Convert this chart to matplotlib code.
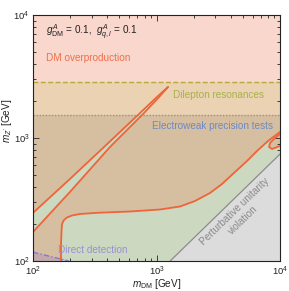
import matplotlib
matplotlib.use('Agg')
import matplotlib.pyplot as plt
from matplotlib.patches import Rectangle
from matplotlib.ticker import LogLocator, FixedLocator, NullFormatter

plt.rcParams['font.family'] = ['Liberation Sans', 'DejaVu Sans']
plt.rcParams['mathtext.fontset'] = 'custom'
plt.rcParams['mathtext.rm'] = 'Liberation Sans'
plt.rcParams['mathtext.it'] = 'Liberation Sans:italic'
plt.rcParams['mathtext.bf'] = 'Liberation Sans:bold'

# ---------------- data (GeV) ----------------
band_upper_mdm = [100, 199, 376, 736, 1028, 1239]
band_upper_mz = [246, 464, 845, 1597, 2195, 2598]
band_lower_mdm = [100, 199, 420, 778, 1067, 1239]
band_lower_mz = [172, 364, 845, 1567, 2195, 2598]

relic_mdm = [168.5, 168.5, 170.1, 171.7, 178.2, 188.5, 207.0, 240.2, 329.8, 610.1,
             1067, 1550, 2050, 2712, 3392, 4321, 5405, 6513, 7993, 10000]
relic_mz = [100, 134.9, 172.1, 199.9, 215.4, 225.8, 234.4, 241.1, 246.5, 252.6,
            262.2, 277.4, 307.4, 357.2, 422.7, 529.0, 650.1, 784.2, 945.3, 1119]

loop_mdm = [10000, 9111, 8299, 8147, 8610, 10000]
loop_mz = [1078, 1000, 910.5, 845.0, 814.0, 861]

dilepton_limit = 2850
ew_limit = 1540

unitarity_mdm = [1290, 10000]
unitarity_mz = [100, 740]

dd_mdm = [100, 195]
dd_mz = [118, 100]

xlim = (100, 10000)
ylim = (100, 10000)
major_ticks = [100, 1000, 10000]
major_labels = [r'$10^{2}$', r'$10^{3}$', r'$10^{4}$']

# ---------------- colours ----------------
c_pink = '#f9d7cc'
c_tan = '#ebd2b2'
c_dtan = '#d6bea1'
c_green = '#ccd9c0'
c_band_mid = '#e4e6c4'
c_grey = '#dcdcdc'
c_relic = '#ef6438'

fig = plt.figure(figsize=(2.89, 2.91), dpi=100)
ax = fig.add_axes([0.1142, 0.1031, 0.8547, 0.8454])
ax.set_xscale('log')
ax.set_yscale('log')
ax.set_xlim(*xlim)
ax.set_ylim(*ylim)

# background bands (regions not overproducing DM)
ax.axhspan(ylim[0], ew_limit, color=c_green, lw=0, zorder=0)
ax.axhspan(ew_limit, dilepton_limit, color=c_band_mid, lw=0, zorder=0)

# overproduction region polygon
over_x = [xlim[0]] + band_upper_mdm + band_lower_mdm[::-1][1:] + [xlim[0]] + relic_mdm + [xlim[1]]
over_y = [ylim[1]] + band_upper_mz + band_lower_mz[::-1][1:] + [ylim[0]] + relic_mz + [ylim[1]]

for lo, hi, col in [(dilepton_limit, ylim[1], c_pink),
                    (ew_limit, dilepton_limit, c_tan),
                    (ylim[0], ew_limit, c_dtan)]:
    clip = Rectangle((1, lo), 1e6, hi - lo, transform=ax.transData)
    for xs, ys in [(over_x, over_y), (loop_mdm, loop_mz)]:
        p, = ax.fill(xs, ys, color=col, lw=0, zorder=1)
        p.set_clip_path(clip)

# unitarity region
ax.fill(unitarity_mdm + [xlim[1]], unitarity_mz + [ylim[0]], color=c_grey, lw=0, zorder=2)
ax.plot(unitarity_mdm, unitarity_mz, color='#8c8c8c', lw=0.9, zorder=4)

# direct detection
ax.fill([xlim[0]] + dd_mdm, [ylim[0]] + dd_mz, color='#8a70d0', alpha=0.25, lw=0, zorder=3)
ax.plot(dd_mdm, dd_mz, color='#8878d0', lw=1.0, ls=(0, (4, 1.5, 1, 1.5)), zorder=4)

# limits lines
ax.axhline(dilepton_limit, color='#b3aa3c', lw=1.0, ls=(0, (3.5, 1.8)), zorder=4)
ax.axhline(ew_limit, color='#9c9488', lw=1.0, ls=(0, (1, 1.2)), zorder=4)

# relic contours
ax.plot(band_upper_mdm, band_upper_mz, color=c_relic, lw=1.3, zorder=5, solid_capstyle='round')
ax.plot(band_lower_mdm, band_lower_mz, color=c_relic, lw=1.3, zorder=5, solid_capstyle='round')
ax.plot(relic_mdm, relic_mz, color=c_relic, lw=1.3, zorder=5)
ax.plot(loop_mdm, loop_mz, color=c_relic, lw=1.3, zorder=5)

# texts
fs = 7.2
ax.text(0.053, 0.931, r'$g^{A}_{\mathrm{DM}}$ = 0.1,  $g^{A}_{q,l}$ = 0.1', transform=ax.transAxes,
        fontsize=fs, color='#222222', ha='left', va='center', zorder=6)
ax.text(0.053, 0.825, 'DM overproduction', transform=ax.transAxes, fontsize=fs,
        color='#f0704c', ha='left', va='center', zorder=6)
ax.text(0.567, 0.675, 'Dilepton resonances', transform=ax.transAxes, fontsize=fs,
        color='#a6b24a', ha='left', va='center', zorder=6)
ax.text(0.482, 0.549, 'Electroweak precision tests', transform=ax.transAxes, fontsize=fs,
        color='#6a8ac6', ha='left', va='center', zorder=6)
ax.text(0.101, 0.045, 'Direct detection', transform=ax.transAxes, fontsize=fs,
        color='#9a8fd6', ha='left', va='center', zorder=6)
ax.text(0.834, 0.183, 'Perturbative unitarity\nviolation', transform=ax.transAxes, fontsize=fs,
        color='#8a8a8a', ha='center', va='center', rotation=44, linespacing=1.3,
        multialignment='center', zorder=6)

# axes styling
ax.xaxis.set_major_locator(FixedLocator(major_ticks))
ax.yaxis.set_major_locator(FixedLocator(major_ticks))
ax.set_xticklabels(major_labels)
ax.set_yticklabels(major_labels)
ax.xaxis.set_minor_locator(LogLocator(base=10, subs=range(2, 10)))
ax.yaxis.set_minor_locator(LogLocator(base=10, subs=range(2, 10)))
ax.xaxis.set_minor_formatter(NullFormatter())
ax.yaxis.set_minor_formatter(NullFormatter())
ax.tick_params(which='both', direction='in', top=True, right=True, width=0.6, colors='#222222',
               labelsize=6.8)
ax.tick_params(which='major', length=4)
ax.tick_params(which='minor', length=2)
ax.tick_params(axis='x', pad=2.5)
ax.tick_params(axis='y', pad=2.5)
for s in ax.spines.values():
    s.set_linewidth(0.8)
    s.set_color('#222222')
    s.set_zorder(7)

ax.set_xlabel(r'$m_{\mathrm{DM}}$ [GeV]', fontsize=fs, color='#222222')
ax.set_ylabel(r"$m_{Z'}$ [GeV]", fontsize=fs, color='#222222')
ax.xaxis.set_label_coords(0.5, -0.065)
ax.yaxis.set_label_coords(-0.077, 0.57)

fig.savefig('out.png', dpi=100)
